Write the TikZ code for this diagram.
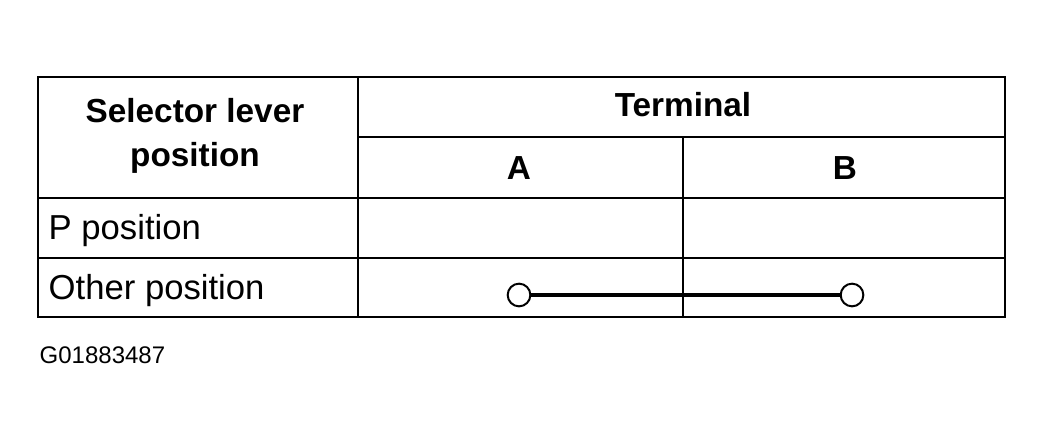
\documentclass[tikz,border=0pt]{standalone}
\usepackage{fontspec}
\setmainfont{Liberation Sans}
\begin{document}
\begin{tikzpicture}[x=0.75pt,y=-0.75pt,
	hdr/.style={font=\fontsize{25}{33}\selectfont\bfseries},
	cell/.style={font=\fontsize{26}{28}\selectfont, anchor=west},
	term/.style={draw, line width=1.5pt, fill=white, circle, minimum size=17pt, inner sep=0pt}]
	\useasboundingbox (0,0) rectangle (1044,438);
	% grid
	\draw[line width=2pt] (38,77) rectangle (1005,317);
	\draw[line width=1.5pt] (358,77) -- (358,317);
	\draw[line width=1.5pt] (358,137) -- (1005,137);
	\draw[line width=1.5pt] (38,198) -- (1005,198);
	\draw[line width=1.5pt] (38,258) -- (1005,258);
	\draw[line width=1pt] (683,137) -- (683,317);
	% headers
	\node[hdr, align=center] (sel) at (195,136) {Selector lever\\position};
	\node[hdr] (termhdr) at (683,105) {Terminal};
	\node[hdr] (colA) at (519,168) {A};
	\node[hdr] (colB) at (845,168) {B};
	% rows
	\node[cell] (ppos) at (44,231) {P position};
	\node[cell] (opos) at (44,291) {Other position};
	% continuity
	\node[term] (ta) at (519,295) {};
	\node[term] (tb) at (852,295) {};
	\draw[line width=2.5pt] (ta) -- (tb);
	\node[font=\fontsize{18}{20}\selectfont, anchor=west] (code) at (35,355) {G01883487};
\end{tikzpicture}
\end{document}
